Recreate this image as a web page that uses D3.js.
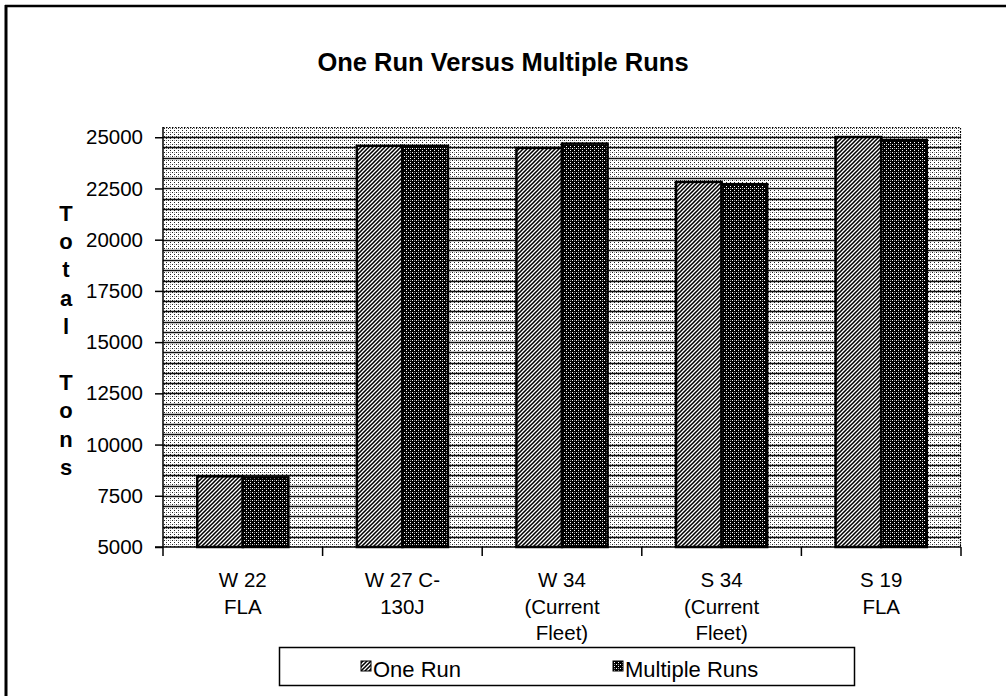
<!DOCTYPE html>
<html>
<head>
<meta charset="utf-8">
<script src="https://cdn.jsdelivr.net/npm/d3@7"></script>
<style>
  html, body { margin: 0; padding: 0; background: #fff; }
  svg { display: block; }
  text { font-family: "Liberation Sans", Arial, sans-serif; fill: #000; }
</style>
</head>
<body>
<svg id="chart" width="1006" height="696"></svg>
<script>
// ---- data ----
const categories = [
  ["W 22", "FLA"],
  ["W 27 C-", "130J"],
  ["W 34", "(Current", "Fleet)"],
  ["S 34", "(Current", "Fleet)"],
  ["S 19", "FLA"]
];
const seriesNames = ["One Run", "Multiple Runs"];
const oneRun = [8450, 24580, 24480, 22820, 25010];
const multipleRuns = [8400, 24580, 24690, 22710, 24860];
const yTicks = [5000, 7500, 10000, 12500, 15000, 17500, 20000, 22500, 25000];
const title = "One Run Versus Multiple Runs";
const yLabel = "Total Tons";

// ---- setup ----
const svg = d3.select("#chart");
const W = 1006, H = 696;
const plot = { left: 163, right: 961, top: 127, bottom: 547 };

const defs = svg.append("defs");
// background stipple
const pBg = defs.append("pattern").attr("id", "pBg").attr("patternUnits", "userSpaceOnUse")
  .attr("width", 4).attr("height", 4);
pBg.append("rect").attr("width", 4).attr("height", 4).attr("fill", "#fff");
pBg.append("rect").attr("x", 0).attr("y", 0).attr("width", 1).attr("height", 1).attr("fill", "#222");
pBg.append("rect").attr("x", 2).attr("y", 2).attr("width", 1).attr("height", 1).attr("fill", "#222");
pBg.append("rect").attr("x", 2).attr("y", 0).attr("width", 1).attr("height", 1).attr("fill", "#999");
// one run diagonal hatch
const pOne = defs.append("pattern").attr("id", "pOne").attr("patternUnits", "userSpaceOnUse")
  .attr("width", 4).attr("height", 4);
pOne.append("rect").attr("width", 4).attr("height", 4).attr("fill", "#fff");
pOne.append("path").attr("d", "M0,4 L4,0 M-1,1 L1,-1 M3,5 L5,3")
  .attr("stroke", "#000").attr("stroke-width", 1.55);
// multiple runs dark dots
const pMul = defs.append("pattern").attr("id", "pMul").attr("patternUnits", "userSpaceOnUse")
  .attr("width", 4).attr("height", 4);
pMul.append("rect").attr("width", 4).attr("height", 4).attr("fill", "#000");
pMul.append("rect").attr("x", 0).attr("y", 0).attr("width", 1).attr("height", 1).attr("fill", "#fff");
pMul.append("rect").attr("x", 2).attr("y", 2).attr("width", 1).attr("height", 1).attr("fill", "#fff");
pMul.append("rect").attr("x", 2).attr("y", 0).attr("width", 1).attr("height", 1).attr("fill", "#888");

const fills = ["url(#pOne)", "url(#pMul)"];

// outer frame (top and left visible)
svg.append("line").attr("x1", 5).attr("y1", 6).attr("x2", W).attr("y2", 6)
  .attr("stroke", "#000").attr("stroke-width", 2.5);
svg.append("line").attr("x1", 6).attr("y1", 5).attr("x2", 6).attr("y2", H)
  .attr("stroke", "#000").attr("stroke-width", 3);

// title
svg.append("text").attr("x", 503).attr("y", 71).attr("text-anchor", "middle")
  .attr("font-size", 25.5).attr("font-weight", "bold").text(title);

// scales
const x0 = d3.scaleBand().domain(d3.range(categories.length))
  .range([plot.left, plot.right]).paddingInner(0).paddingOuter(0);
const x1 = d3.scaleBand().domain(seriesNames).range([0, x0.bandwidth()])
  .paddingInner(0).paddingOuter(0.75);
const y = d3.scaleLinear().domain([5000, 25500]).range([plot.bottom, plot.top]);

// plot background
svg.append("rect").attr("x", plot.left).attr("y", plot.top)
  .attr("width", plot.right - plot.left).attr("height", plot.bottom - plot.top)
  .attr("fill", "url(#pBg)");

// gridlines every 500
const grid = d3.range(5500, 25001, 500);
svg.append("g").selectAll("line").data(grid).join("line")
  .attr("x1", plot.left).attr("x2", plot.right)
  .attr("y1", d => Math.round(y(d)) + 0.5).attr("y2", d => Math.round(y(d)) + 0.5)
  .attr("stroke", "#111").attr("stroke-width", 1.3);

// dotted top/right edges of plot
svg.append("path")
  .attr("d", `M${plot.left},${plot.top + 0.5} H${plot.right - 0.5} V${plot.bottom}`)
  .attr("fill", "none").attr("stroke", "#000").attr("stroke-width", 1.2)
  .attr("stroke-dasharray", "1.5,1.5");

// bars
const seriesData = [oneRun, multipleRuns];
const gBars = svg.append("g");
seriesData.forEach((vals, si) => {
  gBars.selectAll(null).data(vals).join("rect")
    .attr("x", (d, i) => x0(i) + x1(seriesNames[si]))
    .attr("y", d => y(d))
    .attr("width", x1.bandwidth())
    .attr("height", d => plot.bottom - y(d))
    .attr("fill", fills[si])
    .attr("stroke", "#000").attr("stroke-width", 2.5);
});

// y axis
const yAxis = d3.axisLeft(y).tickValues(yTicks).tickSize(8).tickPadding(12)
  .tickFormat(d3.format("d"));
const gy = svg.append("g").attr("transform", `translate(${plot.left},0)`).call(yAxis);
gy.select(".domain").attr("stroke", "#000").attr("stroke-width", 1.5)
  .attr("d", `M0,${plot.top}V${plot.bottom}`);
gy.selectAll(".tick line").attr("stroke", "#000").attr("stroke-width", 1.5);
gy.selectAll(".tick text").attr("font-size", 20.5).attr("font-family", "Liberation Sans, Arial, sans-serif")
  .attr("fill", "#000");

// x axis with ticks at category boundaries
const bounds = d3.range(categories.length + 1).map(i => plot.left + i * x0.step());
svg.append("line").attr("x1", plot.left - 8).attr("x2", plot.right)
  .attr("y1", plot.bottom).attr("y2", plot.bottom)
  .attr("stroke", "#000").attr("stroke-width", 1.5);
svg.append("g").selectAll("line").data(bounds).join("line")
  .attr("x1", d => d).attr("x2", d => d)
  .attr("y1", plot.bottom).attr("y2", plot.bottom + 9)
  .attr("stroke", "#000").attr("stroke-width", 1.5);

// category labels
const gx = svg.append("g");
categories.forEach((lines, i) => {
  const cx = x0(i) + x0.bandwidth() / 2;
  const t = gx.append("text").attr("text-anchor", "middle").attr("font-size", 20.5);
  lines.forEach((ln, k) => {
    t.append("tspan").attr("x", cx).attr("y", 587 + k * 26.5).text(ln);
  });
});

// y label stacked letters
const letters = yLabel.split("");
const gl = svg.append("g");
letters.forEach((ch, k) => {
  if (ch === " ") return;
  gl.append("text").attr("x", 66).attr("y", 221 + k * 28.2)
    .attr("text-anchor", "middle").attr("font-size", 22).attr("font-weight", "bold").text(ch);
});

// legend
svg.append("rect").attr("x", 279.5).attr("y", 647.5).attr("width", 575).attr("height", 38)
  .attr("fill", "#fff").attr("stroke", "#000").attr("stroke-width", 1.5);
const legX = [361, 613];
seriesNames.forEach((name, si) => {
  svg.append("rect").attr("x", legX[si]).attr("y", 661).attr("width", 10).attr("height", 10)
    .attr("fill", fills[si]).attr("stroke", "#000").attr("stroke-width", 1);
  svg.append("text").attr("x", legX[si] + 12).attr("y", 677).attr("font-size", 22).text(name);
});
</script>
</body>
</html>
